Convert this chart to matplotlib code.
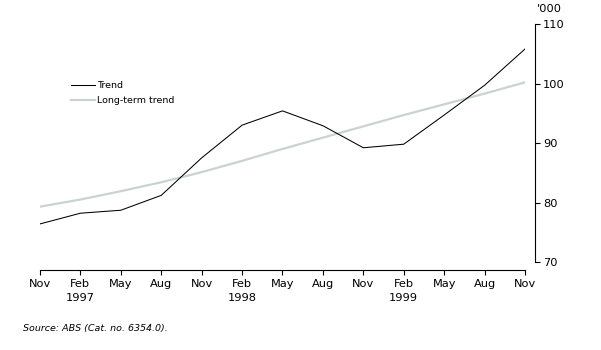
import matplotlib.pyplot as plt
import numpy as np

plt.rcParams['font.family'] = ['DejaVu Sans']

# Quarterly, Nov 1996 to Nov 1999 ('000)
quarters = ["Nov", "Feb\n1997", "May", "Aug", "Nov", "Feb\n1998", "May",
            "Aug", "Nov", "Feb\n1999", "May", "Aug", "Nov"]
trend = [76.4, 78.2, 78.7, 81.2, 87.5, 93.0, 95.4, 92.9, 89.2, 89.8, 94.7, 99.7, 105.8]
long_term = [79.3, 80.5, 81.9, 83.4, 85.1, 87.0, 89.0, 90.9, 92.8, 94.7, 96.5, 98.3, 100.2]
y_ticks = [70, 80, 90, 100, 110]

W, H = 601, 350
fig = plt.figure(figsize=(W / 100, H / 100), dpi=100)
ax = fig.add_axes([40 / W, 1 - 270 / H, 485 / W, 246 / H])

x = np.arange(len(quarters))
ax.plot(x, long_term, color="#c9d3cf", lw=1.6, label="Long-term trend", zorder=2)
ax.plot(x, trend, color="black", lw=0.75, label="Trend", zorder=3)

ax.set_xlim(0, len(quarters) - 1)
ax.set_ylim(70 - 8 / 5.95, 110)

for s in ["top", "left"]:
    ax.spines[s].set_visible(False)
ax.spines["right"].set_position(("outward", 7))
ax.spines["right"].set_bounds(70, 110)
ax.spines["right"].set_linewidth(0.8)
ax.spines["bottom"].set_linewidth(0.8)

ax.yaxis.tick_right()
ax.set_yticks(y_ticks)
ax.set_xticks(x)
ax.set_xticklabels(quarters, linespacing=1.45)
ax.tick_params(axis="both", direction="out", length=3.5, width=0.8,
               labelsize=8.2, pad=3)
ax.tick_params(axis="y", pad=2.5)

ax.text(537 / W, 1 - 9 / H, "'000", transform=fig.transFigure,
        fontsize=8.2, va="center", ha="left")

handles, labels = ax.get_legend_handles_labels()
ax.legend(handles[::-1], labels[::-1], loc="upper left",
          bbox_to_anchor=(71 / W, 1 - 81 / H), bbox_transform=fig.transFigure,
          frameon=False, fontsize=6.8, handlelength=2.5, handletextpad=0.3,
          labelspacing=0.65, borderaxespad=0, borderpad=0)

fig.text(23 / W, 1 - 328 / H, "Source: ABS (Cat. no. 6354.0).", fontsize=6.8,
         style="italic", va="center", ha="left")

fig.savefig("out.png", dpi=100)
